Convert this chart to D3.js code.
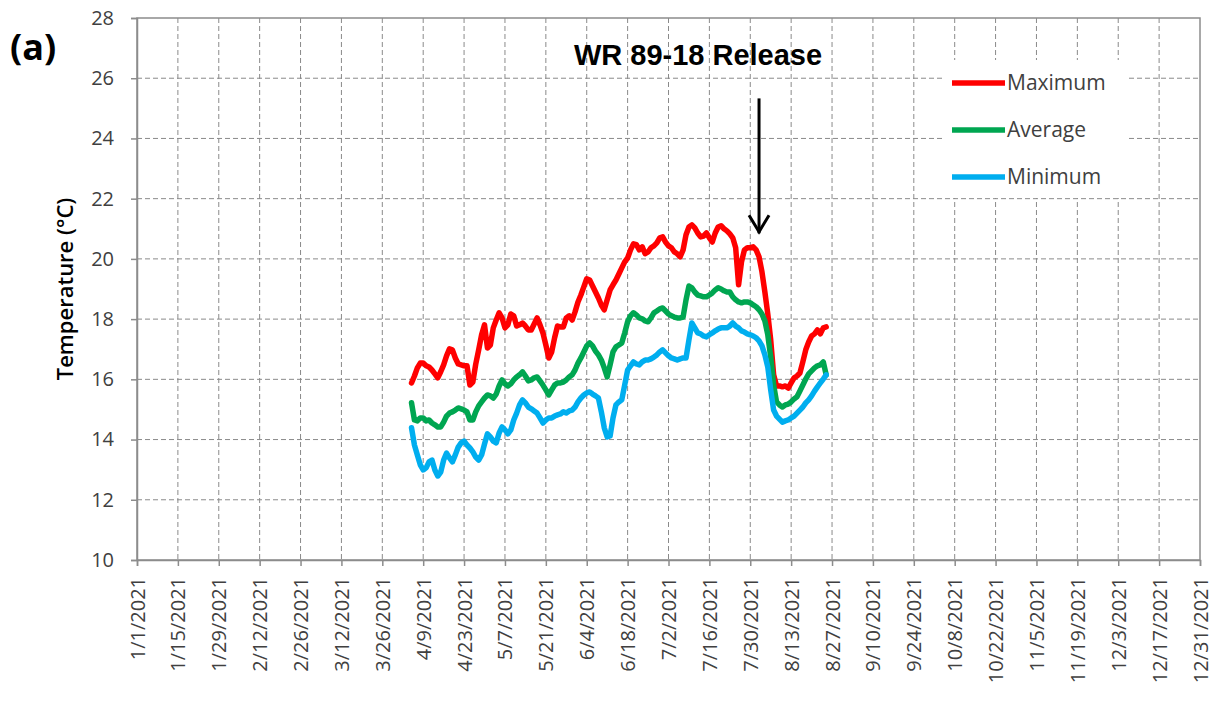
<!DOCTYPE html>
<html>
<head>
<meta charset="utf-8">
<script src="https://cdn.jsdelivr.net/npm/d3@7"></script>
<style>
    body { margin: 0; background: #fff; }
    svg { display: block; font-family: 'Open Sans', 'Noto Sans', sans-serif; }
</style>
</head>
<body>
<div id="chart"></div>
<script>
//Colores fijos
const COLOR_MAX = '#FF0000',
COLOR_AVG = '#00A651',
COLOR_MIN = '#00AEEF',
COLOR_AXIS = '#8C8C8C',
COLOR_GRID = '#8A8A8A',
COLOR_TEXT = '#404040';

//Datos (diarios desde el 4/5/2021)
const startDate = '4/5/2021';

const maxTemp = [15.88,16.11,16.38,16.54,16.54,16.45,16.41,16.31,16.18,16.05,
    16.25,16.48,16.78,17.01,16.98,16.71,16.51,16.48,16.45,16.45,
    15.81,15.91,16.51,16.98,17.48,17.81,17.04,17.14,17.71,17.97,
    18.21,18.04,17.71,17.81,18.17,18.11,17.77,17.81,17.87,17.77,
    17.64,17.64,17.84,18.04,17.81,17.54,17.14,16.71,16.91,17.38,
    17.77,17.74,17.74,18.04,18.11,17.97,18.24,18.57,18.80,19.07,
    19.34,19.30,19.10,18.90,18.70,18.47,18.31,18.64,18.97,19.14,
    19.30,19.50,19.70,19.90,20.03,20.30,20.50,20.47,20.30,20.40,
    20.17,20.23,20.37,20.43,20.53,20.70,20.73,20.56,20.43,20.37,
    20.23,20.17,20.07,20.30,20.80,21.06,21.13,21.03,20.86,20.73,
    20.76,20.86,20.70,20.56,20.86,21.06,21.10,21.00,20.93,20.83,
    20.70,20.37,19.14,19.90,20.30,20.37,20.37,20.40,20.30,20.07,
    19.57,18.90,18.17,17.31,16.15,15.78,15.78,15.75,15.78,15.71,
    15.88,16.05,16.11,16.21,16.58,16.98,17.24,17.44,17.51,17.64,
    17.51,17.71,17.74];

const avgTemp = [15.22,14.65,14.62,14.72,14.72,14.62,14.65,14.55,14.49,14.42,
    14.42,14.58,14.78,14.88,14.92,14.98,15.05,15.02,14.98,14.92,
    14.65,14.65,14.92,15.12,15.25,15.38,15.48,15.45,15.38,15.51,
    15.78,15.98,15.85,15.78,15.85,15.98,16.08,16.15,16.25,16.11,
    15.95,15.98,16.05,16.08,15.95,15.81,15.65,15.48,15.65,15.81,
    15.88,15.88,15.91,15.98,16.08,16.15,16.31,16.54,16.71,16.91,
    17.11,17.21,17.11,16.94,16.81,16.64,16.38,16.08,16.48,16.91,
    17.08,17.14,17.21,17.54,17.91,18.11,18.21,18.14,18.04,18.01,
    17.94,17.91,18.04,18.21,18.27,18.34,18.37,18.27,18.17,18.11,
    18.07,18.04,18.04,18.07,18.64,19.10,19.04,18.90,18.80,18.77,
    18.74,18.74,18.80,18.87,18.97,19.04,19.00,18.94,18.90,18.90,
    18.74,18.64,18.57,18.54,18.57,18.57,18.54,18.47,18.41,18.31,
    18.17,17.94,17.48,16.74,15.81,15.25,15.15,15.08,15.15,15.18,
    15.25,15.35,15.42,15.61,15.81,16.01,16.18,16.28,16.38,16.45,
    16.48,16.58,16.15];

const minTemp = [14.39,13.82,13.49,13.16,12.99,13.06,13.26,13.32,12.99,12.79,
    12.92,13.32,13.55,13.39,13.26,13.49,13.75,13.89,13.95,13.82,
    13.72,13.59,13.42,13.32,13.49,13.85,14.19,14.09,13.95,13.89,
    14.22,14.42,14.32,14.19,14.32,14.65,14.88,15.15,15.32,15.22,
    15.08,15.02,14.95,14.88,14.72,14.55,14.65,14.72,14.72,14.78,
    14.82,14.85,14.92,14.88,14.95,14.98,15.08,15.25,15.38,15.48,
    15.55,15.58,15.51,15.45,15.38,14.92,14.39,14.09,14.12,14.72,
    15.15,15.25,15.32,15.81,16.31,16.45,16.58,16.51,16.48,16.58,
    16.64,16.64,16.68,16.74,16.81,16.91,16.98,16.88,16.78,16.71,
    16.68,16.64,16.68,16.71,16.71,17.31,17.87,17.71,17.54,17.51,
    17.44,17.41,17.48,17.54,17.61,17.67,17.71,17.71,17.71,17.77,
    17.87,17.77,17.71,17.61,17.57,17.51,17.48,17.44,17.38,17.28,
    17.11,16.81,16.41,15.65,14.98,14.78,14.68,14.58,14.62,14.65,
    14.72,14.78,14.88,14.98,15.08,15.22,15.32,15.45,15.61,15.75,
    15.88,16.01,16.15];

const seriesNames = ['Maximum', 'Average', 'Minimum'];
const seriesColors = [COLOR_MAX, COLOR_AVG, COLOR_MIN];

const xTickLabels = ['1/1/2021','1/15/2021','1/29/2021','2/12/2021','2/26/2021','3/12/2021','3/26/2021',
    '4/9/2021','4/23/2021','5/7/2021','5/21/2021','6/4/2021','6/18/2021','7/2/2021','7/16/2021',
    '7/30/2021','8/13/2021','8/27/2021','9/10/2021','9/24/2021','10/8/2021','10/22/2021',
    '11/5/2021','11/19/2021','12/3/2021','12/17/2021','12/31/2021'];
const yTicks = [10, 12, 14, 16, 18, 20, 22, 24, 26, 28];

const releaseDate = '8/2/2021';
const releaseText = 'WR 89-18 Release';

//Medidas
let W = 1221, H = 702,
    margin = {top: 18, right: 21, bottom: 142, left: 137},
    width = W - margin.left - margin.right,
    height = H - margin.top - margin.bottom;

let parse = d3.utcParse('%m/%d/%Y');

let svg = d3.select('#chart')
    .append('svg')
      .attr('width', W)
      .attr('height', H);

let chart = svg.append('g')
    .attr('transform', 'translate(' + margin.left + ',' + margin.top + ')');

//Escalas
let x = d3.scaleUtc()
    .domain([parse(xTickLabels[0]), parse(xTickLabels[xTickLabels.length - 1])])
    .range([0, width]);

let y = d3.scaleLinear()
    .domain([10, 28])
    .range([height, 0]);

//Rejilla
chart.append('g')
    .selectAll('line')
    .data(xTickLabels.slice(1, -1))
    .enter()
    .append('line')
      .attr('x1', d => x(parse(d)))
      .attr('x2', d => x(parse(d)))
      .attr('y1', 0)
      .attr('y2', height)
      .attr('stroke', COLOR_GRID)
      .attr('stroke-width', 1)
      .attr('stroke-dasharray', '5,3');

chart.append('g')
    .selectAll('line')
    .data(yTicks.slice(1, -1))
    .enter()
    .append('line')
      .attr('x1', 0)
      .attr('x2', width)
      .attr('y1', d => y(d))
      .attr('y2', d => y(d))
      .attr('stroke', COLOR_GRID)
      .attr('stroke-width', 1)
      .attr('stroke-dasharray', '5,3');

//Borde del área
chart.append('rect')
    .attr('x', 0)
    .attr('y', 0)
    .attr('width', width)
    .attr('height', height)
    .attr('fill', 'none')
    .attr('stroke', COLOR_AXIS)
    .attr('stroke-width', 1.5);

//Eje X
let xAxis = d3.axisBottom(x)
    .tickValues(xTickLabels.map(parse))
    .tickFormat((d, i) => xTickLabels[i])
    .tickSizeOuter(0)
    .tickSize(6);

let gx = chart.append('g')
    .attr('transform', 'translate(0,' + height + ')')
    .call(xAxis);

gx.select('.domain').attr('stroke', COLOR_AXIS).attr('stroke-width', 1.5);
gx.selectAll('.tick line').attr('stroke', COLOR_AXIS).attr('stroke-width', 1.5);
gx.selectAll('.tick text')
    .attr('transform', 'rotate(-90)')
    .attr('x', -17)
    .attr('y', 0)
    .attr('dy', '0.35em')
    .attr('text-anchor', 'end')
    .attr('fill', COLOR_TEXT)
    .style('font-size', '20px')
    .style('font-family', "'Open Sans', sans-serif");

//Eje Y
let gy = chart.append('g')
    .call(d3.axisLeft(y).tickValues(yTicks).tickSizeOuter(0).tickSize(6));

gy.select('.domain').attr('stroke', COLOR_AXIS).attr('stroke-width', 1.5);
gy.selectAll('.tick line').attr('stroke', COLOR_AXIS).attr('stroke-width', 1.5);
gy.selectAll('.tick text')
    .attr('x', -23)
    .attr('fill', COLOR_TEXT)
    .style('font-size', '20px')
    .style('font-family', "'Open Sans', sans-serif");

//Líneas
let start = parse(startDate);
let series = [maxTemp, avgTemp, minTemp].map(function(values) {
    return values.map(function(v, i) { return { date: d3.utcDay.offset(start, i), value: v }; });
});

let line = d3.line()
    .x(d => x(d.date))
    .y(d => y(d.value));

chart.append('g')
    .selectAll('path')
    .data(series)
    .enter()
    .append('path')
      .attr('d', line)
      .attr('fill', 'none')
      .attr('stroke', (d, i) => seriesColors[i])
      .attr('stroke-width', 5.5)
      .attr('stroke-linejoin', 'round')
      .attr('stroke-linecap', 'round');

//Leyenda
let legend = svg.append('g')
    .attr('transform', 'translate(942,60)');

legend.append('rect')
    .attr('width', 186)
    .attr('height', 138)
    .attr('fill', '#fff');

let legendItems = legend.selectAll('g.item')
    .data(seriesNames)
    .enter()
    .append('g')
      .attr('class', 'item')
      .attr('transform', (d, i) => 'translate(0,' + (23 + i * 47) + ')');

legendItems.append('line')
    .attr('x1', 10)
    .attr('x2', 63)
    .attr('stroke', (d, i) => seriesColors[i])
    .attr('stroke-width', 5.5);

legendItems.append('text')
    .attr('x', 65)
    .attr('y', 7)
    .attr('fill', COLOR_TEXT)
    .style('font-size', '21px')
    .text(d => d);

//Anotación de la suelta
let xr = x(parse(releaseDate));

svg.append('text')
    .attr('x', 698)
    .attr('y', 65)
    .attr('text-anchor', 'middle')
    .style('font-family', "'Liberation Sans', Arial, sans-serif")
    .style('font-weight', 'bold')
    .style('font-size', '29px')
    .attr('fill', '#000')
    .text(releaseText);

let arrow = chart.append('g')
    .attr('stroke', '#000')
    .attr('stroke-width', 3)
    .attr('fill', 'none');

arrow.append('line')
    .attr('x1', xr).attr('x2', xr)
    .attr('y1', y(25.33)).attr('y2', y(20.85));

arrow.append('polyline')
    .attr('points', [[xr - 10, y(21.45)], [xr, y(20.9)], [xr + 10, y(21.45)]].join(' '));

//Títulos
svg.append('text')
    .attr('transform', 'translate(73,289) rotate(-90)')
    .attr('text-anchor', 'middle')
    .style('font-weight', '600')
    .style('font-size', '22px')
    .attr('fill', '#000')
    .text('Temperature (°C)');

svg.append('text')
    .attr('x', 10)
    .attr('y', 60)
    .style('font-weight', 'bold')
    .style('font-size', '36px')
    .attr('fill', '#000')
    .text('(a)');
</script>
</body>
</html>
